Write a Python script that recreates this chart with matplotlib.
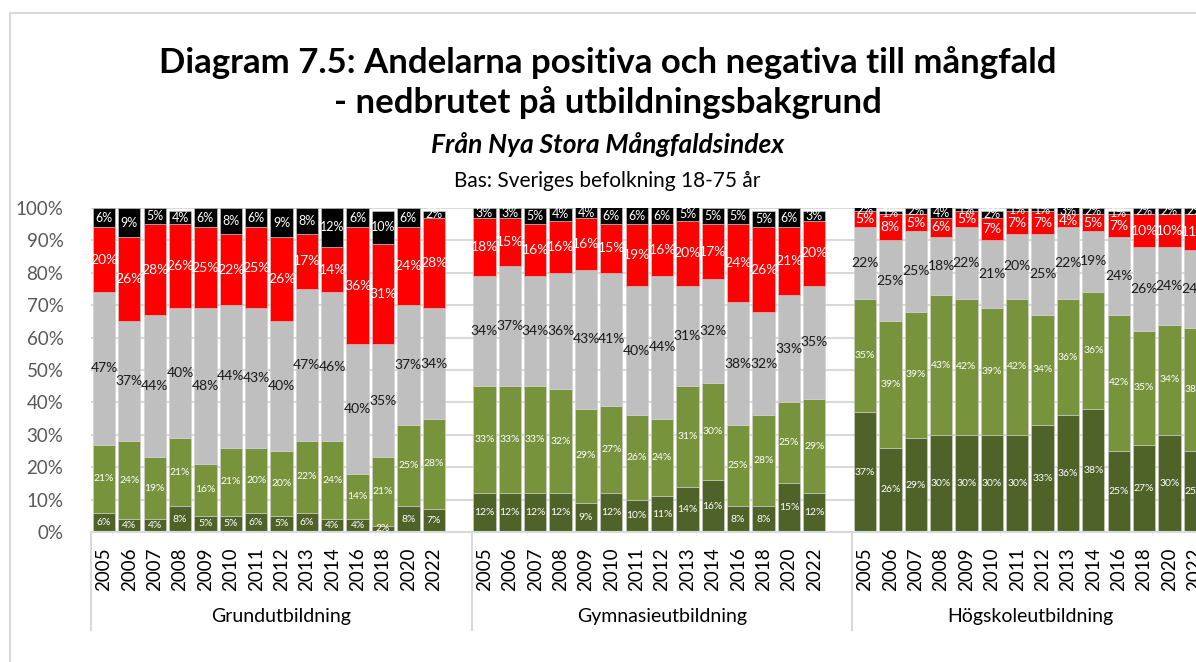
import matplotlib
matplotlib.use("Agg")
import matplotlib.pyplot as plt
from matplotlib.lines import Line2D

plt.rcParams['font.family'] = ['Lato', 'DejaVu Sans']

years = ['2005', '2006', '2007', '2008', '2009', '2010', '2011', '2012',
         '2013', '2014', '2016', '2018', '2020', '2022']
groups = ['Grundutbildning', 'Gymnasieutbildning', 'Högskoleutbildning']

# values per segment, groups in order Grund / Gymnasie / Högskola (14 years each)
mycket_positiv = [6, 4, 4, 8, 5, 5, 6, 5, 6, 4, 4, 2, 8, 7,
                  12, 12, 12, 12, 9, 12, 10, 11, 14, 16, 8, 8, 15, 12,
                  37, 26, 29, 30, 30, 30, 30, 33, 36, 38, 25, 27, 30, 25]
positiv = [21, 24, 19, 21, 16, 21, 20, 20, 22, 24, 14, 21, 25, 28,
           33, 33, 33, 32, 29, 27, 26, 24, 31, 30, 25, 28, 25, 29,
           35, 39, 39, 43, 42, 39, 42, 34, 36, 36, 42, 35, 34, 38]
neutral = [47, 37, 44, 40, 48, 44, 43, 40, 47, 46, 40, 35, 37, 34,
           34, 37, 34, 36, 43, 41, 40, 44, 31, 32, 38, 32, 33, 35,
           22, 25, 25, 18, 22, 21, 20, 25, 22, 19, 24, 26, 24, 24]
negativ = [20, 26, 28, 26, 25, 22, 25, 26, 17, 14, 36, 31, 24, 28,
           18, 15, 16, 16, 16, 15, 19, 16, 20, 17, 24, 26, 21, 20,
           5, 8, 5, 6, 5, 7, 7, 7, 4, 5, 7, 10, 10, 11]
mycket_negativ = [6, 9, 5, 4, 6, 8, 6, 9, 8, 12, 6, 10, 6, 2,
                  3, 3, 5, 4, 4, 6, 6, 6, 5, 5, 5, 5, 6, 3,
                  2, 1, 2, 4, 1, 2, 1, 1, 3, 2, 1, 2, 2, 2]

segments = [mycket_positiv, positiv, neutral, negativ, mycket_negativ]
colors = ['#4f6228', '#77933c', '#bfbfbf', '#ff0000', '#000000']
text_colors = ['white', 'white', '#1a1a1a', 'white', 'white']
label_sizes = [7.5, 7.5, 10, 10, 9]

n = len(years)
xpos = [g * (n + 1) + i for g in range(len(groups)) for i in range(n)]

fig = plt.figure(figsize=(11.96, 6.62), dpi=100)
ax = fig.add_axes([0.0763, 0.1964, 0.9333, 0.4894])

bottom = [0] * len(xpos)
for seg, col, tcol, fs in zip(segments, colors, text_colors, label_sizes):
    bars = ax.bar(xpos, seg, bottom=bottom, width=0.88, color=col,
                  edgecolor='#d0d0d0', linewidth=0.4, zorder=2)
    ax.bar_label(bars, labels=[f'{v}%' for v in seg], label_type='center',
                 color=tcol, fontsize=fs)
    bottom = [b + v for b, v in zip(bottom, seg)]

ax.set_xlim(-0.5, 43.5)
ax.set_ylim(0, 100)
ax.set_yticks(range(0, 101, 10))
ax.set_yticklabels([f'{v}%' for v in range(0, 101, 10)], fontsize=13.5, color='#595959')
ax.yaxis.grid(True, color='#d9d9d9', linewidth=1.5, zorder=0)
ax.set_axisbelow(True)
ax.tick_params(axis='y', length=0, pad=20)
ax.set_xticks(xpos)
ax.set_xticklabels(years * len(groups), rotation=90, fontsize=13.5)
ax.tick_params(axis='x', length=0, pad=11)
for s in ['top', 'right', 'left']:
    ax.spines[s].set_visible(False)
ax.spines['bottom'].set_color('#d9d9d9')
ax.spines['bottom'].set_linewidth(1.5)

# group separators and labels below the axis
trans = ax.get_xaxis_transform()
for xs in [-0.5, n + 0.5, 2 * n + 1.5]:
    ax.add_line(Line2D([xs, xs], [0, -0.302], transform=trans, color='#d9d9d9',
                       linewidth=1.5, clip_on=False))
for gx, name in zip([7, 22, 36.5], groups):
    ax.text(gx, -0.26, name, transform=trans, ha='center', va='center', fontsize=14)

# chart border
fig.add_artist(Line2D([10 / 1196, 1.0], [1 - 13 / 662, 1 - 13 / 662], color='#d9d9d9', linewidth=1.5))
fig.add_artist(Line2D([10 / 1196, 10 / 1196], [0, 1 - 13 / 662], color='#d9d9d9', linewidth=1.5))

fig.text(0.508, 0.906, 'Diagram 7.5: Andelarna positiva och negativa till mångfald',
         ha='center', va='center', fontsize=25, fontweight='bold')
fig.text(0.508, 0.845, '- nedbrutet på utbildningsbakgrund',
         ha='center', va='center', fontsize=25, fontweight='bold')
fig.text(0.508, 0.781, 'Från Nya Stora Mångfaldsindex',
         ha='center', va='center', fontsize=19, fontweight='bold', fontstyle='italic')
fig.text(0.508, 0.727, 'Bas: Sveriges befolkning 18-75 år',
         ha='center', va='center', fontsize=15)

fig.savefig('out.png', dpi=100)
